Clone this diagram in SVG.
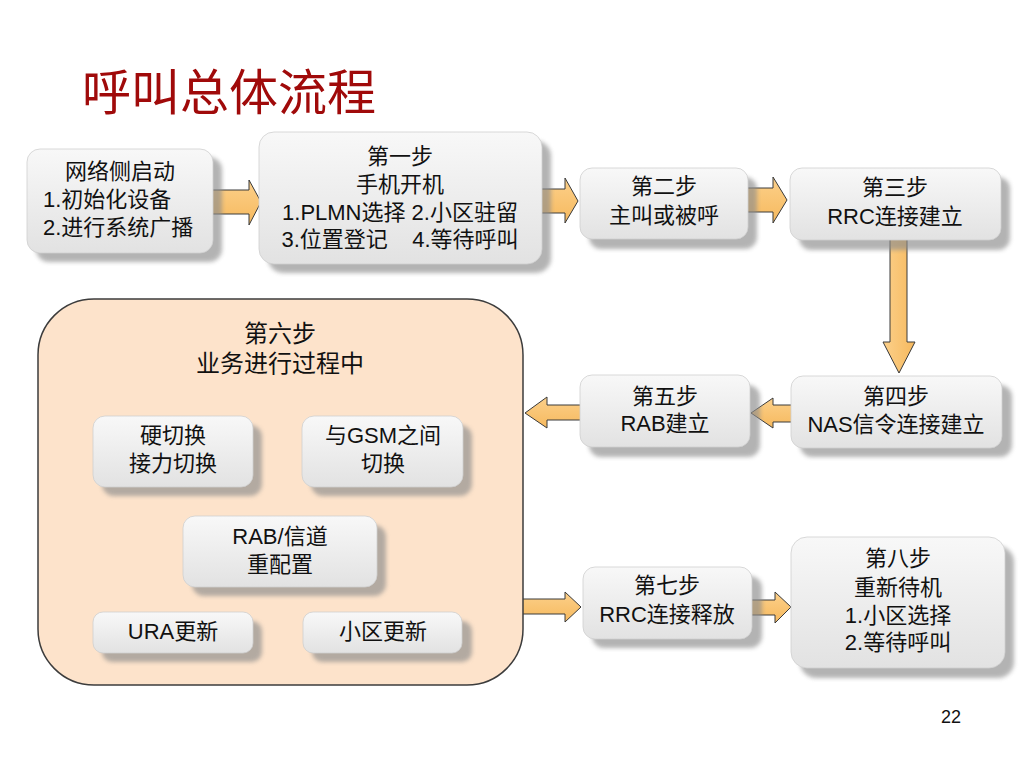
<svg xmlns="http://www.w3.org/2000/svg" width="1024" height="768" viewBox="0 0 1024 768">
<defs>
<linearGradient id="gNode" x1="0" y1="0" x2="0" y2="1">
<stop offset="0" stop-color="#F8F8F8"/>
<stop offset="1" stop-color="#E2E2E2"/>
</linearGradient>
<linearGradient id="gArrH" x1="0" y1="0" x2="0" y2="1">
<stop offset="0" stop-color="#FCD08A"/>
<stop offset="1" stop-color="#F6B95E"/>
</linearGradient>
<linearGradient id="gArrV" x1="0" y1="0" x2="1" y2="0">
<stop offset="0" stop-color="#FCD08A"/>
<stop offset="1" stop-color="#F6B95E"/>
</linearGradient>
<filter id="blur" x="-10%" y="-10%" width="120%" height="120%">
<feGaussianBlur stdDeviation="2"/>
</filter>
<style>
.sh{fill:#8C8C8C;opacity:0.65;filter:url(#blur)}
.nd{fill:url(#gNode);stroke:#CFCFCF;stroke-width:0.8}
.ar{fill:url(#gArrH);stroke:#3A3A3A;stroke-width:1}
.arv{fill:url(#gArrV);stroke:#3A3A3A;stroke-width:1}
.t{font-family:"Liberation Sans","Noto Sans CJK SC",sans-serif;font-size:22px;fill:#111;text-anchor:middle}
.ts{font-family:"Liberation Sans","Noto Sans CJK SC",sans-serif;font-size:22px;fill:#111;text-anchor:start}
.t24{font-family:"Liberation Sans","Noto Sans CJK SC",sans-serif;font-size:24px;fill:#111;text-anchor:middle}
</style>
</defs>
<rect width="1024" height="768" fill="#FFFFFF"/>
<text x="82" y="110" font-family="'Noto Sans CJK SC','Liberation Sans',sans-serif" font-size="49" fill="#A00A0A">呼叫总体流程</text>

<g id="connectors">
<path class="ar" d="M208,190 H249 V180 L261,202 L249,225 V214 H208 Z"/>
<path class="ar" d="M538,189 H565 V178 L578,201 L565,223 V213 H538 Z"/>
<path class="ar" d="M744,188 H773 V177 L787,200 L773,223 V212 H744 Z"/>
<path class="arv" d="M890,238 V342 H883 L899,373 L915,342 H907 V238 Z"/>
<path class="ar" d="M796,405 H773 V398 L751,413 L773,428 V422 H796 Z"/>
<path class="ar" d="M585,405 H547 V397 L525,413 L547,428 V420 H585 Z"/>
<path class="ar" d="M522,599 H565 V592 L581,607 L565,622 V614 H522 Z"/>
<path class="ar" d="M748,600 H775 V592 L791,607 L775,623 V615 H748 Z"/>
</g>

<g id="n0">
<rect class="sh" x="36" y="157" width="186" height="105" rx="13"/>
<rect class="nd" x="27" y="149" width="186" height="104" rx="13"/>
<text class="t" x="120" y="179">网络侧启动</text>
<text class="ts"><tspan x="43" y="207">1.初始化设备</tspan><tspan x="43" y="235">2.进行系统广播</tspan></text>
</g>

<g id="n1">
<rect class="sh" x="268" y="141" width="283" height="132" rx="15"/>
<rect class="nd" x="259" y="132" width="283" height="132" rx="15"/>
<text class="t" xml:space="preserve"><tspan x="400" y="164">第一步</tspan><tspan x="400" y="192">手机开机</tspan><tspan x="400" y="220">1.PLMN选择 2.小区驻留</tspan><tspan x="400" y="247">3.位置登记    4.等待呼叫</tspan></text>
</g>

<g id="n2">
<rect class="sh" x="589" y="177" width="168" height="72" rx="12"/>
<rect class="nd" x="580" y="168" width="168" height="71" rx="12"/>
<text class="t"><tspan x="664" y="194">第二步</tspan><tspan x="664" y="223">主叫或被呼</tspan></text>
</g>

<g id="n3">
<rect class="sh" x="799" y="177" width="211" height="73" rx="12"/>
<rect class="nd" x="790" y="168" width="211" height="72" rx="12"/>
<text class="t"><tspan x="895" y="195">第三步</tspan><tspan x="895" y="224">RRC连接建立</tspan></text>
</g>

<g id="n4">
<rect class="sh" x="800" y="385" width="212" height="72" rx="12"/>
<rect class="nd" x="791" y="376" width="211" height="72" rx="12"/>
<text class="t"><tspan x="896" y="404">第四步</tspan><tspan x="896" y="432">NAS信令连接建立</tspan></text>
</g>

<g id="n5">
<rect class="sh" x="589" y="385" width="171" height="72" rx="12"/>
<rect class="nd" x="580" y="375" width="170" height="72" rx="12"/>
<text class="t"><tspan x="665" y="404">第五步</tspan><tspan x="665" y="431">RAB建立</tspan></text>
</g>

<g id="n6">
<rect x="38" y="299" width="485" height="386" rx="56" fill="#FDE3CB" stroke="#3C3C3C" stroke-width="1.5"/>
<text class="t24"><tspan x="280" y="342">第六步</tspan><tspan x="280" y="372">业务进行过程中</tspan></text>
</g>

<g id="n6a">
<rect class="sh" x="102" y="425" width="160" height="71" rx="12"/>
<rect class="nd" x="93" y="416" width="160" height="71" rx="12"/>
<text class="t"><tspan x="173" y="443">硬切换</tspan><tspan x="173" y="471">接力切换</tspan></text>
</g>

<g id="n6b">
<rect class="sh" x="311" y="425" width="161" height="71" rx="12"/>
<rect class="nd" x="302" y="416" width="161" height="71" rx="12"/>
<text class="t"><tspan x="383" y="443">与GSM之间</tspan><tspan x="383" y="471">切换</tspan></text>
</g>

<g id="n6c">
<rect class="sh" x="192" y="525" width="194" height="71" rx="12"/>
<rect class="nd" x="183" y="516" width="194" height="71" rx="12"/>
<text class="t"><tspan x="280" y="544">RAB/信道</tspan><tspan x="280" y="572">重配置</tspan></text>
</g>

<g id="n6d">
<rect class="sh" x="102" y="621" width="160" height="41" rx="10"/>
<rect class="nd" x="93" y="612" width="160" height="41" rx="10"/>
<text class="t" x="173" y="639">URA更新</text>
</g>

<g id="n6e">
<rect class="sh" x="312" y="621" width="160" height="41" rx="10"/>
<rect class="nd" x="303" y="612" width="159" height="41" rx="10"/>
<text class="t" x="383" y="639">小区更新</text>
</g>

<g id="n7">
<rect class="sh" x="592" y="576" width="170" height="72" rx="12"/>
<rect class="nd" x="583" y="567" width="169" height="72" rx="12"/>
<text class="t"><tspan x="667" y="593">第七步</tspan><tspan x="667" y="622">RRC连接释放</tspan></text>
</g>

<g id="n8">
<rect class="sh" x="800" y="546" width="214" height="132" rx="16"/>
<rect class="nd" x="791" y="537" width="214" height="131" rx="16"/>
<text class="t"><tspan x="898" y="566">第八步</tspan><tspan x="898" y="595">重新待机</tspan><tspan x="898" y="623">1.小区选择</tspan><tspan x="898" y="650">2.等待呼叫</tspan></text>
</g>

<text x="951" y="723" font-family="'Liberation Sans',sans-serif" font-size="18" fill="#111" text-anchor="middle">22</text>
</svg>
